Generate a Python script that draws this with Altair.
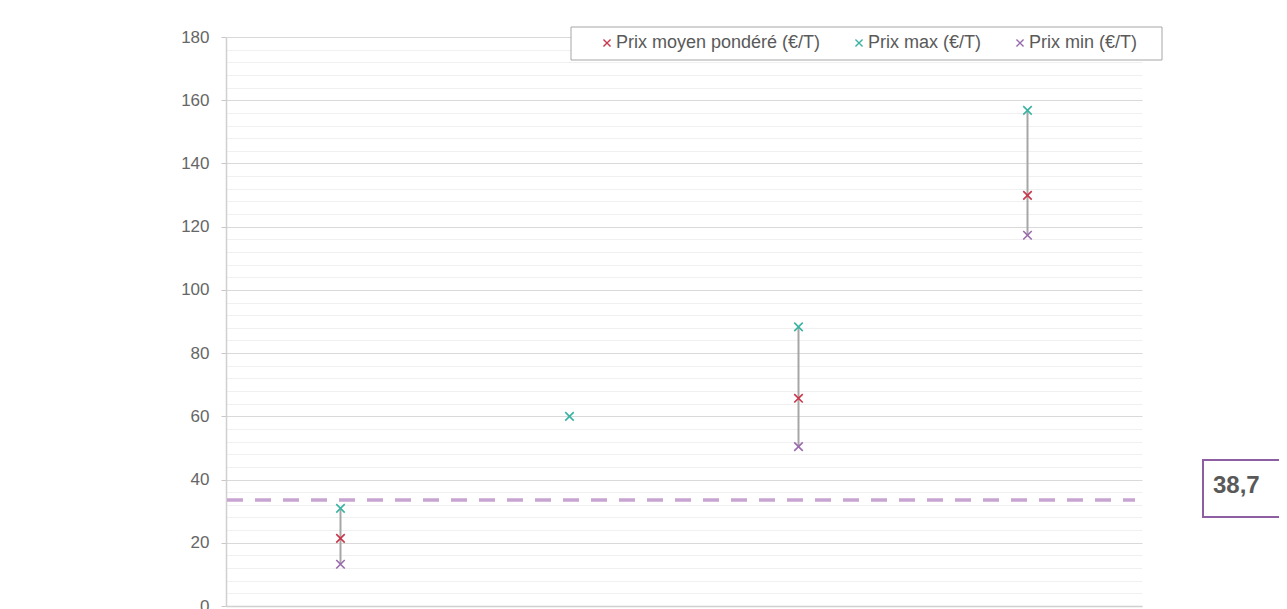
import altair as alt
import pandas as pd

# ---- data ----
categories = ["Catégorie 1", "Catégorie 2", "Catégorie 3", "Catégorie 4"]
prix_moyen = [21.4, None, 65.7, 129.9]
prix_max = [30.9, 60.0, 88.3, 156.8]
prix_min = [13.2, None, 50.4, 117.3]
series_names = ["Prix moyen pondéré (€/T)", "Prix max (€/T)", "Prix min (€/T)"]
series_colors = ["#c8374b", "#3bb3a3", "#9a6aae"]
reference_value = [33.5]
reference_label = ["38,7"]
y_ticks = list(range(0, 181, 4))

FONT = "Liberation Sans"
XPATH = "M-1,-1L1,1M-1,1L1,-1"

rows = []
for c, m, mx, mn in zip(categories, prix_moyen, prix_max, prix_min):
    for name, v in zip(series_names, (m, mx, mn)):
        if v is not None:
            rows.append({"categorie": c, "serie": name, "valeur": v})
points_df = pd.DataFrame(rows)

bars_df = pd.DataFrame([
    {"categorie": c, "min": mn, "max": mx}
    for c, mn, mx in zip(categories, prix_min, prix_max)
    if mn is not None and mx is not None
])

ref_df = pd.DataFrame({"valeur": reference_value, "label": reference_label})

x_axis = alt.Axis(title=None, labels=False, ticks=False, grid=False,
                  domainColor="#d0d0d0", domainWidth=1.5)
x_enc = alt.X(
    "categorie:N",
    sort=categories,
    scale=alt.Scale(domain=categories, type="point", padding=0.5),
    axis=x_axis,
)
major = "datum.value % 20 === 0"
y_scale = alt.Scale(domain=[0, 180], nice=False, zero=True)
y_axis = alt.Axis(
    title=None,
    values=y_ticks,
    labelExpr=f"{major} ? datum.label : ''",
    labelOverlap=False,
    gridColor={"condition": {"test": major, "value": "#d9d9d9"}, "value": "#f0f0f0"},
    gridWidth=1,
    tickOpacity={"condition": {"test": major, "value": 1}, "value": 0},
    tickColor="#c8c8c8",
    tickSize=5,
    domainColor="#d0d0d0",
    domainWidth=1.5,
    labelPadding=12,
    labelFontSize=17,
    labelColor="#666666",
    labelFont=FONT,
)

bars = alt.Chart(bars_df).mark_rule(color="#a6a6a6", strokeWidth=2).encode(
    x=x_enc,
    y=alt.Y("min:Q", scale=y_scale, axis=y_axis),
    y2="max:Q",
)

ref_line = alt.Chart(ref_df).mark_rule(
    color="#c7a4d1", strokeWidth=3.5, strokeDash=[16, 12]
).encode(
    y=alt.Y("valeur:Q", scale=y_scale, axis=y_axis),
    x=alt.value(1),
    x2=alt.value(909),
)

legend_box = alt.Chart(ref_df).mark_rect(
    fill="white", stroke="#a6a6a6", strokeWidth=1
).encode(
    x=alt.value(345), x2=alt.value(936), y=alt.value(-10), y2=alt.value(23)
)

pts = alt.Chart(points_df).mark_point(
    shape=XPATH, filled=False, size=72, strokeWidth=1.6, opacity=1
).encode(
    x=x_enc,
    y=alt.Y("valeur:Q", scale=y_scale, axis=y_axis),
    color=alt.Color(
        "serie:N",
        scale=alt.Scale(domain=series_names, range=series_colors),
        sort=series_names,
        legend=alt.Legend(
            title=None,
            orient="none",
            legendX=372,
            legendY=-3,
            direction="horizontal",
            symbolType=XPATH,
            symbolSize=50,
            symbolStrokeWidth=1.4,
            labelFontSize=18,
            labelFont=FONT,
            labelColor="#595959",
            labelOffset=0,
            labelLimit=0,
            columnPadding=29,
            padding=0,
        ),
    ),
)

value_box = alt.Chart(ref_df).mark_rect(
    fill="white", stroke="#8e5ea2", strokeWidth=2
).encode(
    x=alt.value(977), x2=alt.value(1120), y=alt.value(423), y2=alt.value(480)
)

value_text = alt.Chart(ref_df).mark_text(
    align="left", baseline="alphabetic", fontSize=24, fontWeight="bold",
    color="#595959", font=FONT
).encode(
    x=alt.value(987), y=alt.value(456), text="label:N"
)

chart = alt.layer(bars, ref_line, legend_box, pts, value_box, value_text).properties(
    width=916,
    height=569,
    autosize=alt.AutoSizeParams(type="none"),
    padding={"left": 218, "top": 29, "right": 137, "bottom": 3},
).configure(font=FONT).configure_view(stroke=None)

chart.save("out.html", embed_options={"renderer": "svg", "actions": False})
